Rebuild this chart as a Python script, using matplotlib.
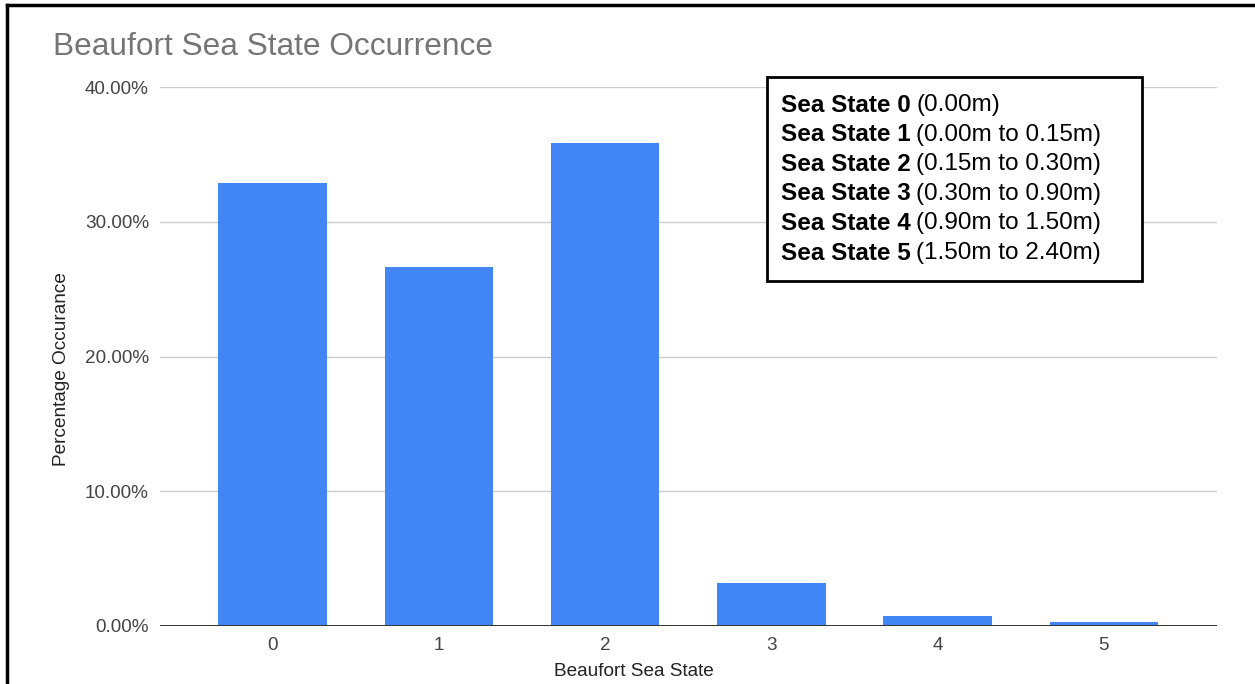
import matplotlib
matplotlib.use("Agg")
import matplotlib.pyplot as plt
from matplotlib.lines import Line2D

plt.rcParams['font.family'] = ['Liberation Sans', 'DejaVu Sans']

# Data
sea_states = ["0", "1", "2", "3", "4", "5"]
occurrence = [32.85, 26.66, 35.82, 3.21, 0.74, 0.27]
y_ticks = [0, 10, 20, 30, 40]
legend_names = ["Sea State 0", "Sea State 1", "Sea State 2",
                "Sea State 3", "Sea State 4", "Sea State 5"]
legend_ranges = ["(0.00m)", "(0.00m to 0.15m)", "(0.15m to 0.30m)",
                 "(0.30m to 0.90m)", "(0.90m to 1.50m)", "(1.50m to 2.40m)"]

W, H = 1255, 684
fig = plt.figure(figsize=(W / 100, H / 100), dpi=100)
fig.patch.set_facecolor("white")

# axes box in pixel terms
left, right, bottom, top = 160, 1216.7, 626, 87
ax = fig.add_axes([left / W, 1 - bottom / H, (right - left) / W, (bottom - top) / H])

x = list(range(len(sea_states)))
ax.bar(x, occurrence, width=0.652, color="#4285F4", zorder=3)

ax.set_xlim(-0.677, 5.678)
ax.set_ylim(0, 40)
ax.set_yticks(y_ticks)
ax.set_yticklabels([f"{v:.2f}%" for v in y_ticks])
ax.set_xticks(x)
ax.set_xticklabels(sea_states)

ax.grid(axis="y", color="#cccccc", linewidth=1.0, zorder=0)
ax.axhline(0, color="#333333", linewidth=1.4, zorder=4)
for s in ax.spines.values():
    s.set_visible(False)
ax.tick_params(axis="both", length=0, labelsize=13.6, colors="#444444")
ax.tick_params(axis="y", pad=8)
ax.tick_params(axis="x", pad=8)
for lbl in ax.get_xticklabels() + ax.get_yticklabels():
    lbl.set_color("#444444")

fig.text(62 / W, 1 - 369 / H, "Percentage Occurance", rotation=90,
         ha="center", va="center", fontsize=13.7, color="#222222")
fig.text(633.5 / W, 1 - 672 / H, "Beaufort Sea State",
         ha="center", va="center", fontsize=13.7, color="#222222")

fig.text(53 / W, 1 - 47 / H, "Beaufort Sea State Occurrence",
         ha="left", va="center", fontsize=22.8, color="#757575")

# Legend box with the wave-height ranges
bx0, bx1, by0, by1 = 766.7, 1141.7, 76.7, 280.7
box = plt.Rectangle((bx0 / W, 1 - by1 / H), (bx1 - bx0) / W, (by1 - by0) / H,
                    transform=fig.transFigure, facecolor="white",
                    edgecolor="black", linewidth=2, zorder=10)
fig.add_artist(box)
for i, (name, rng) in enumerate(zip(legend_names, legend_ranges)):
    yc = 1 - (105 + i * 29.6) / H
    t = fig.text(780.7 / W, yc, name, ha="left", va="center", fontsize=17.5,
                 fontweight="bold", color="black", zorder=11)
    fig.canvas.draw()
    bb = t.get_window_extent()
    fig.text((bb.x1 + 6) / W, yc, rng, ha="left", va="center", fontsize=17.5,
             color="black", zorder=11)

# outer frame on the left and top
fig.add_artist(Line2D([6.5 / W, 6.5 / W], [0, 1 - 5 / H], transform=fig.transFigure,
                      color="black", linewidth=2.5))
fig.add_artist(Line2D([6.5 / W, 1], [1 - 5 / H, 1 - 5 / H], transform=fig.transFigure,
                      color="black", linewidth=2.5))

fig.savefig("out.png", dpi=100)
